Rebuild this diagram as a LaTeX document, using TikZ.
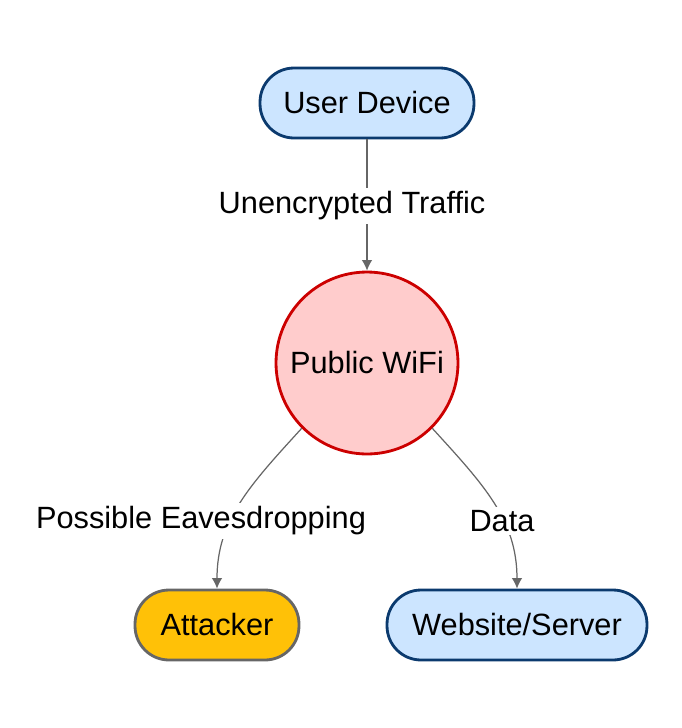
\documentclass[tikz,border=0pt]{standalone}
\usepackage{fontspec}
\setmainfont{Liberation Sans}
\usepackage{tikz}
\usetikzlibrary{arrows.meta}

\definecolor{boxblue}{HTML}{CCE5FF}
\definecolor{edgeblue}{HTML}{0B3A6E}
\definecolor{wifired}{HTML}{FFCCCC}
\definecolor{edgered}{HTML}{CC0000}
\definecolor{attgold}{HTML}{FFC107}
\definecolor{linegray}{HTML}{666666}

\begin{document}
\begin{tikzpicture}[x=0.02cm, y=-0.02cm,
    every node/.style={font=\fontsize{17.5}{21}\selectfont},
    pill/.style={draw=edgeblue, fill=boxblue, line width=1.6pt, rounded corners=0.68cm, minimum height=1.4cm},
    link/.style={draw=linegray, line width=0.7pt, -{Latex[length=6pt,width=6pt]}},
    lbl/.style={fill=white, inner sep=2pt}]
    \useasboundingbox (0,0) rectangle (682,728);

    \node (user) [pill, minimum width=4.28cm] at (367,103) {User Device};
    \node (wifi) [circle, draw=edgered, fill=wifired, line width=1.6pt, minimum size=3.64cm] at (367,363) {Public WiFi};
    \node (attacker) [pill, draw=linegray, fill=attgold, minimum width=3.28cm] at (217,625) {Attacker};
    \node (server) [pill, minimum width=5.2cm] at (517,625) {Website/Server};

    \draw[link] (user) -- (wifi);
    \draw[link] (wifi.225) .. controls (250,485) and (217,520) .. (attacker.north);
    \draw[link] (wifi.315) .. controls (484,485) and (517,520) .. (server.north);

    \node (lblA) [lbl] at (352,206) {Unencrypted Traffic};
    \node (lblB) [lbl] at (201,521) {Possible Eavesdropping};
    \node (lblC) [lbl] at (502,521) {Data};
\end{tikzpicture}
\end{document}
